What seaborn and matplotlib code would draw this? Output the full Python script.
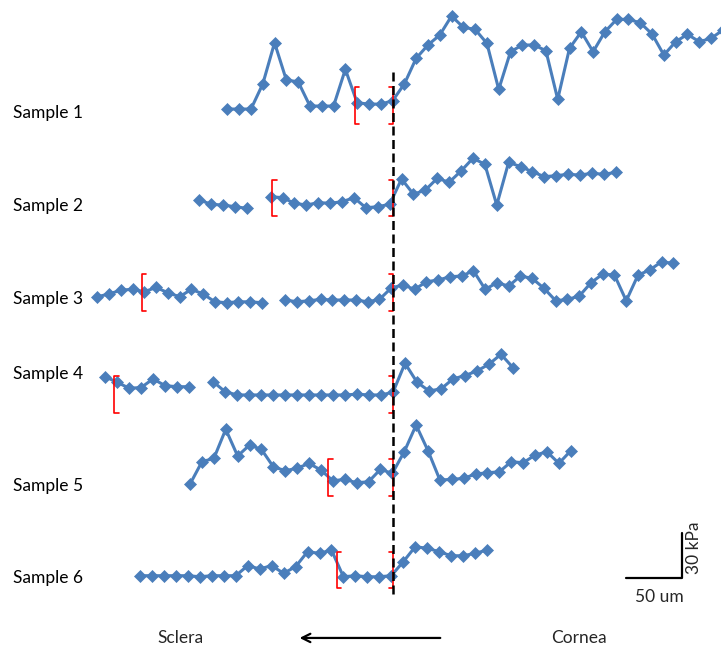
import numpy as np
import pandas as pd
import matplotlib
matplotlib.use("Agg")
import matplotlib.pyplot as plt
import seaborn as sns

# Stiffness profiles (kPa) across the limbus, one list per sample.
# None marks a position with no measurement (the trace is broken there).
sample_names = ["Sample 1", "Sample 2", "Sample 3", "Sample 4", "Sample 5", "Sample 6"]

s1_kpa = [2.0, 2.0, 2.0, 18.7, 46.2, 21.3, 20.2, 4.0, 4.0, 4.0, 28.5, 6.2, 5.3, 5.3,
          7.5, 18.7, 35.8, 44.7, 51.3, 64.0, 56.5, 55.1, 45.8, 15.1, 40.2, 44.7, 44.7,
          40.9, 8.5, 42.5, 53.5, 40.2, 53.5, 61.8, 61.8, 59.5, 52.0, 38.0, 46.9, 51.8,
          46.9, 49.1, 54.7]
s2_kpa = [6.7, 3.8, 3.3, 2.2, 1.1, None, 8.9, 8.2, 4.5, 3.3, 4.9, 4.5, 5.5, 8.2, 1.5,
          2.2, 3.8, 20.7, 10.5, 13.3, 21.1, 18.5, 26.0, 34.5, 30.5, 3.3, 31.8, 28.9,
          25.5, 22.2, 22.9, 23.8, 23.3, 24.5, 23.8, 25.1]
s3_kpa = [4.9, 6.7, 9.3, 9.8, 8.2, 11.1, 7.5, 4.9, 9.8, 6.7, 1.5, 0.9, 1.5, 1.5, 0.9,
          None, 2.7, 1.5, 2.2, 3.1, 2.7, 2.7, 2.7, 1.5, 3.1, 10.7, 12.7, 9.8, 14.9, 16.0,
          18.2, 18.7, 22.2, 9.8, 14.2, 12.0, 18.7, 17.1, 10.5, 2.2, 3.1, 5.3, 14.2, 20.0,
          19.3, 2.2, 19.3, 22.7, 28.2, 27.1]
s4_kpa = [14.2, 10.5, 6.5, 6.9, 12.7, 8.2, 7.5, 7.5, None, 10.9, 4.2, 2.0, 2.0, 2.0,
          2.0, 2.0, 2.0, 2.0, 2.0, 2.0, 2.0, 2.5, 2.0, 2.0, 3.8, 23.1, 10.5, 4.7, 6.0,
          12.7, 14.9, 18.0, 22.5, 29.1, 20.2]
s5_kpa = [2.0, 16.9, 19.1, 38.5, 20.7, 28.0, 25.1, 13.5, 10.9, 12.5, 15.8, 11.3, 4.2,
          5.1, 2.9, 3.5, 11.8, 9.1, 23.5, 41.3, 24.2, 4.7, 5.1, 5.8, 8.7, 9.5, 10.2,
          16.9, 16.2, 21.3, 23.5, 15.8, 24.2]
s6_kpa = [2.2, 2.2, 2.2, 2.2, 2.2, 1.5, 2.2, 2.2, 2.2, 8.9, 6.7, 8.9, 3.8, 8.2, 18.2,
          17.1, 19.3, 1.5, 2.2, 1.5, 1.5, 2.2, 11.5, 21.5, 20.5, 18.2, 15.5, 15.5, 17.1,
          19.3]

# Position of the first measurement and spacing (um), relative to the boundary at 0 um
first_um = [-148.7, -173.9, -265.4, -258.5, -182.2, -227.1]
step_um = [10.59, 10.68, 10.55, 10.77, 10.68, 10.74]

# Region averaged for each sample (left edge of the bracket, um); right edge is the boundary
bracket_left_um = [-34.1, -108.6, -225.5, -250.4, -58.1, -50.5]

# Layout: vertical offset of each trace and label (kPa units on the stacked axis)
trace_offset = [357.3, 292.0, 229.3, 166.7, 107.3, 46.0]
label_y = [356.7, 294.7, 232.7, 182.7, 108.0, 46.7]
bracket_mid = [361.7, 300.0, 237.3, 169.3, 113.7, 52.0]

profiles = [s1_kpa, s2_kpa, s3_kpa, s4_kpa, s5_kpa, s6_kpa]

rows = []
for k, vals in enumerate(profiles):
    seg = 0
    for i, v in enumerate(vals):
        if v is None:
            seg += 1
            continue
        rows.append({"sample": sample_names[k], "seg": f"{k}-{seg}",
                     "x": first_um[k] + step_um[k] * i,
                     "y": trace_offset[k] + v})
df = pd.DataFrame(rows)

sns.set_style("white")
plt.rcParams["font.family"] = ["Lato", "DejaVu Sans"]

fig = plt.figure(figsize=(7.21, 6.48), dpi=100)
ax = fig.add_axes([0, 0, 1, 1])

blue = "#4A7EBB"
sns.lineplot(data=df, x="x", y="y", units="seg", estimator=None, sort=True,
             color=blue, lw=2.2, marker="D", markersize=6.3,
             markeredgecolor=blue, markeredgewidth=0.5, ax=ax, legend=False, zorder=2)

# Boundary between sclera and cornea
ax.plot([0, 0], [36.0, 386.7], color="black", lw=1.8, dashes=(3.6, 1.8), zorder=4)

# Red brackets marking the averaged region
half_h = 12.3
serif = 4.0
for k in range(6):
    yb, yt = bracket_mid[k] - half_h, bracket_mid[k] + half_h
    xl = bracket_left_um[k]
    ax.plot([xl + serif, xl, xl, xl + serif], [yt, yt, yb, yb], color="red", lw=1.2, zorder=3)
    ax.plot([-serif, 0, 0, -serif], [yt, yt, yb, yb], color="red", lw=1.2, zorder=3)

# Sample labels
for name, ly in zip(sample_names, label_y):
    ax.text(-341.0, ly, name, fontsize=12.5, ha="left", va="center", color="black")

# Direction arrow and region names
ax.annotate("", xy=(-86.4, 6.7), xytext=(44.9, 6.7),
            arrowprops=dict(arrowstyle="->,head_length=0.6,head_width=0.3", color="black", lw=1.6))
ax.text(-191.2, 6.7, "Sclera", fontsize=12.5, ha="center", va="center")
ax.text(167.0, 6.7, "Cornea", fontsize=12.5, ha="center", va="center")

# Scale bar: 50 um by 30 kPa
bar_x0, bar_y0 = 209.2, 46.5
ax.plot([bar_x0, bar_x0 + 50, bar_x0 + 50], [bar_y0, bar_y0, bar_y0 + 30], color="black", lw=1.6)
ax.text(bar_x0 + 30, 34.0, "50 um", fontsize=12.5, ha="center", va="center")
ax.text(270.2, 67.0, "30 kPa", fontsize=12.5, ha="center", va="center", rotation=90)

ax.set_xlim(-352.8, 294.4)
ax.set_ylim(0, 432)
ax.set_axis_off()

fig.savefig("out.png", dpi=100)
